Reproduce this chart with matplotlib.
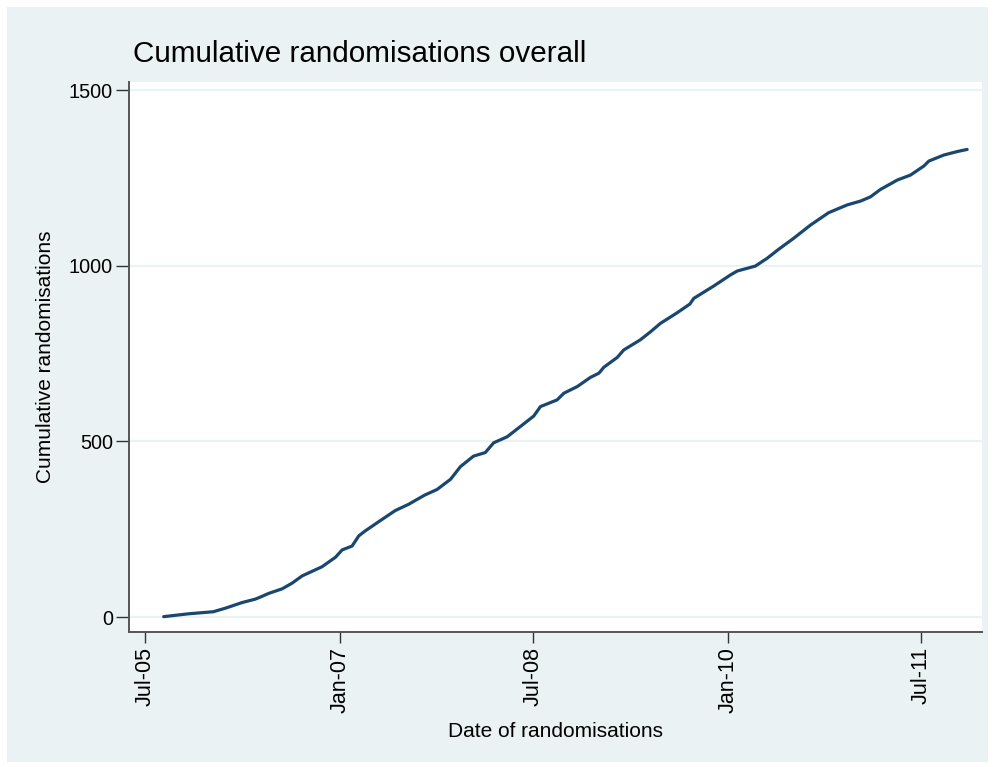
import matplotlib
matplotlib.use('Agg')
import matplotlib.pyplot as plt
import matplotlib.dates as mdates
import pandas as pd
from matplotlib.patches import Rectangle

# Data (date, cumulative count)
dates = ['2005-08-22', '2005-10-30', '2006-01-09', '2006-02-12', '2006-03-31',
         '2006-05-08', '2006-05-25', '2006-06-14', '2006-07-22', '2006-08-19',
         '2006-09-17', '2006-11-12', '2006-12-20', '2007-01-08', '2007-02-05',
         '2007-02-24', '2007-03-14', '2007-05-01', '2007-06-07', '2007-07-15',
         '2007-08-29', '2007-10-03', '2007-11-10', '2007-12-08', '2008-01-14',
         '2008-02-16', '2008-03-11', '2008-04-18', '2008-05-25', '2008-07-02',
         '2008-07-21', '2008-09-06', '2008-09-25', '2008-11-02', '2008-12-09',
         '2009-01-02', '2009-01-16', '2009-02-23', '2009-03-13', '2009-04-29',
         '2009-05-28', '2009-06-25', '2009-08-11', '2009-09-16', '2009-09-27',
         '2009-11-22', '2010-01-09', '2010-01-28', '2010-03-20', '2010-04-22',
         '2010-05-25', '2010-07-06', '2010-08-23', '2010-10-13', '2010-12-04',
         '2011-01-11', '2011-02-08', '2011-03-08', '2011-04-25', '2011-06-01',
         '2011-07-09', '2011-07-23', '2011-09-03', '2011-10-11', '2011-11-08']
cumulative = [1, 9, 15, 25, 41,
              51, 58, 67, 80, 96,
              117, 143, 170, 191, 202,
              231, 245, 278, 303, 321,
              347, 363, 392, 428, 458,
              468, 496, 513, 542, 572,
              599, 618, 637, 656, 682,
              694, 711, 739, 760, 789,
              812, 836, 866, 891, 907,
              942, 974, 985, 999, 1021,
              1047, 1078, 1116, 1151, 1173,
              1184, 1196, 1217, 1244, 1258,
              1284, 1298, 1315, 1325, 1331]

tick_dates = ['2005-07-01', '2007-01-01', '2008-07-01', '2010-01-01', '2011-07-01']
tick_labels = ['Jul-05', 'Jan-07', 'Jul-08', 'Jan-10', 'Jul-11']
y_ticks = [0, 500, 1000, 1500]

bg = '#EAF2F3'
navy = '#1A476F'

plt.rcParams['font.family'] = ['Liberation Sans', 'DejaVu Sans']

W, H = 993, 767
fig = plt.figure(figsize=(W / 100, H / 100), dpi=100, facecolor='white')
# light blue graph region with a thin white border, like Stata's s2color
fig.patches.append(Rectangle((7 / W, 1 - 762 / H), (988 - 7) / W, (762 - 7) / H,
                             transform=fig.transFigure, facecolor=bg,
                             edgecolor='none', zorder=-10))

ax = fig.add_axes([129 / W, 1 - 632 / H, (982 - 129) / W, (632 - 82) / H])
ax.set_facecolor('white')

x = pd.to_datetime(dates)
ax.plot(x, cumulative, color=navy, linewidth=2.3, solid_capstyle='round',
        solid_joinstyle='round')

ax.set_xlim(pd.Timestamp('2005-05-16'), pd.Timestamp('2011-12-20'))
ax.set_ylim(-42.7, 1523)

ax.set_yticks(y_ticks)
ax.set_yticklabels([str(v) for v in y_ticks], fontsize=14.3)
ax.set_xticks(mdates.date2num(pd.to_datetime(tick_dates)))
ax.set_xticklabels(tick_labels, rotation=90, fontsize=15.5)

ax.grid(axis='y', color=bg, linewidth=1.6)
ax.set_axisbelow(True)

for s in ['top', 'right']:
    ax.spines[s].set_visible(False)
for s in ['left', 'bottom']:
    ax.spines[s].set_color('#555555')
    ax.spines[s].set_linewidth(1.4)
ax.tick_params(axis='y', length=9.5, width=1.0, color='#333333', pad=2)
ax.tick_params(axis='x', length=8, width=1.0, color='#333333', pad=3)

ax.set_ylabel('Cumulative randomisations', fontsize=15, labelpad=10)
ax.set_xlabel('Date of randomisations', fontsize=15, labelpad=6)
fig.text(133 / W, 1 - 62 / H, 'Cumulative randomisations overall',
         fontsize=21.3, ha='left', va='baseline')

fig.savefig('out.png', dpi=100, facecolor='white')
